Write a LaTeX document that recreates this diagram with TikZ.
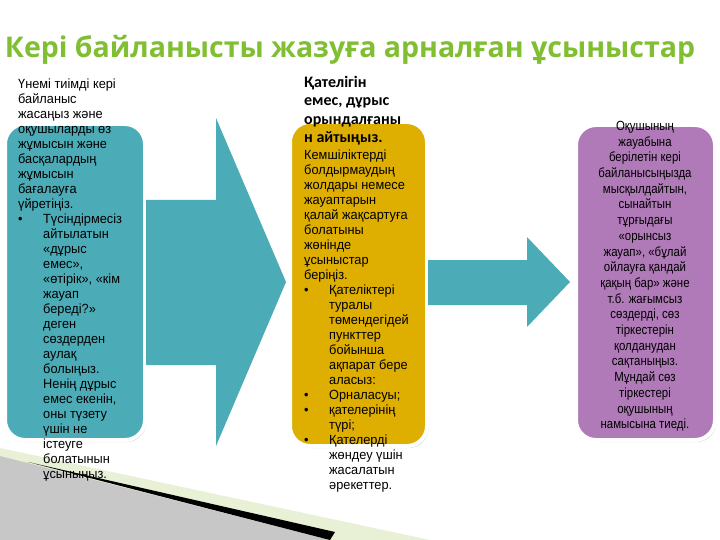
\documentclass[tikz,border=0pt]{standalone}
\usepackage{fontspec}
\setmainfont{Liberation Sans}[FakeStretch=0.96]
\newfontfamily\narrowfont{Liberation Sans}[FakeStretch=0.86]
\newfontfamily\titlefont{Open Sans}
\newfontfamily\hdrfont{Carlito}
\usetikzlibrary{shadows}
\definecolor{teal1}{RGB}{75,172,183}
\definecolor{gold1}{RGB}{222,174,0}
\definecolor{purp1}{RGB}{176,122,184}
\definecolor{ttl}{RGB}{128,190,50}
\definecolor{lgreen}{RGB}{232,240,214}
\tikzset{
 card/.style={rounded corners=20pt, draw=white, line width=4pt, drop shadow={shadow xshift=1.5pt,shadow yshift=-2pt,fill=black!35}},
 body/.style={inner sep=0pt, anchor=north west, align=left, font=\fontsize{13.3}{15}\selectfont},
 arrowc/.style={fill=teal1, draw=none}
}
\newcommand{\bl}{\makebox[25pt][l]{\textbullet}}
\newcommand{\ind}{\hspace*{25pt}}
\begin{document}
\begin{tikzpicture}[x=1pt,y=-1pt]
\useasboundingbox (0,0) rectangle (720,540);
\fill[white] (0,0) rectangle (720,540);
% bottom decoration
\fill[lgreen] (0,448) -- (430,540) -- (0,540) -- cycle;
\fill[black!22] (0,456) -- (330,540) -- (0,540) -- cycle;
\fill[black] (28,462) -- (335,532) -- (330,540) -- cycle;
% title
\node[font=\titlefont\bfseries\fontsize{28.5}{32}\selectfont, text=ttl] (title) at (350,50) {Кері байланысты жазуға арналған ұсыныстар};
% cards
\path[card, fill=teal1] (5,124) rectangle (145,440);
\path[card, fill=gold1] (290,122) rectangle (427,446);
\path[card, fill=purp1] (576,125) rectangle (715,440);
% arrows
\fill[arrowc] (146,200) -- (216,200) -- (216,118) -- (286,282) -- (216,446) -- (216,365) -- (146,365) -- cycle;
\fill[arrowc] (428,260) -- (527,260) -- (527,237) -- (570,282) -- (527,327) -- (527,305) -- (428,305) -- cycle;
% texts
\node[body] (t1) at (18,79) {Үнемі тиімді кері\\ байланыс\\ жасаңыз және\\ оқушыларды өз\\ жұмысын және\\ басқалардың\\ жұмысын\\ бағалауға\\ үйретіңіз.\\
\bl Түсіндірмесіз\\ \ind айтылатын\\ \ind «дұрыс\\ \ind емес»,\\ \ind «өтірік», «кім\\ \ind жауап\\ \ind береді?»\\ \ind деген\\ \ind сөздерден\\ \ind аулақ\\ \ind болыңыз.\\ \ind Ненің дұрыс\\ \ind емес екенін,\\ \ind оны түзету\\ \ind үшін не\\ \ind істеуге\\ \ind болатынын\\ \ind ұсыныңыз.};
\node[body, font=\hdrfont\bfseries\fontsize{16}{18.5}\selectfont] (h2) at (304,76) {Қателігін\\ емес, дұрыс\\ орындалғаны\\ н айтыңыз.};
\node[body] (t2) at (304,150) {Кемшіліктерді\\ болдырмаудың\\ жолдары немесе\\ жауаптарын\\ қалай жақсартуға\\ болатыны\\ жөнінде\\ ұсыныстар\\ беріңіз.\\
\bl Қателіктері\\ \ind туралы\\ \ind төмендегідей\\ \ind пункттер\\ \ind бойынша\\ \ind ақпарат бере\\ \ind аласыз:\\ \bl Орналасуы;\\ \bl қателерінің\\ \ind түрі;\\ \bl Қателерді\\ \ind жөндеу үшін\\ \ind жасалатын\\ \ind әрекеттер.};
\node[body, anchor=north, align=center, font=\narrowfont\fontsize{13.3}{15.7}\selectfont] (t3) at (645,121) {Оқушының\\ жауабына\\ берілетін кері\\ байланысыңызда\\ мысқылдайтын,\\ сынайтын\\ тұрғыдағы\\ «орынсыз\\ жауап», «бұлай\\ ойлауға қандай\\ қақың бар» және\\ т.б. жағымсыз\\ сөздерді, сөз\\ тіркестерін\\ қолданудан\\ сақтаныңыз.\\ Мұндай сөз\\ тіркестері\\ оқушының\\ намысына тиеді.};
\end{tikzpicture}
\end{document}
